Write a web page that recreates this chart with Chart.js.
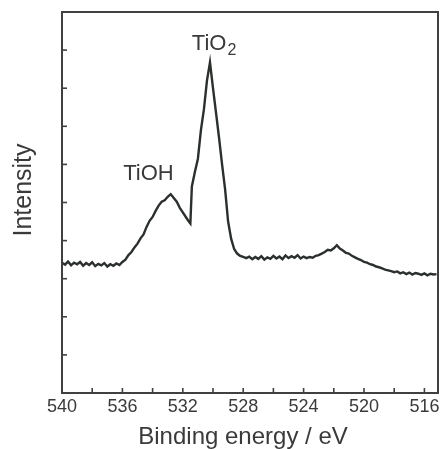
<!DOCTYPE html>
<html>
<head>
<meta charset="utf-8">
<script src="https://cdn.jsdelivr.net/npm/chart.js@4.4.1/dist/chart.umd.min.js"></script>
<style>
  html, body { margin: 0; padding: 0; background: #ffffff; }
  #wrap { width: 446px; height: 449px; }
</style>
</head>
<body>
<div id="wrap"><canvas id="c" width="446" height="449"></canvas></div>
<script>
// Binding energy (eV) and intensity (arbitrary units)
const energies = [
  540.0, 539.8, 539.6, 539.4, 539.2, 539.0, 538.8, 538.6, 538.4, 538.2,
  538.0, 537.8, 537.6, 537.4, 537.2, 537.0, 536.8, 536.6, 536.4, 536.2,
  536.0, 535.8, 535.6, 535.4, 535.2, 535.0, 534.8, 534.6, 534.4, 534.2,
  534.0, 533.8, 533.6, 533.4, 533.2, 533.0, 532.8, 532.6, 532.4, 532.2,
  532.0, 531.8, 531.6, 531.5, 531.4, 531.2, 531.0, 530.8, 530.6, 530.4,
  530.2, 530.0, 529.8, 529.6, 529.4, 529.2, 529.0, 528.8, 528.6, 528.4,
  528.2, 528.0, 527.8, 527.6, 527.4, 527.2, 527.0, 526.8, 526.6, 526.4,
  526.2, 526.0, 525.8, 525.6, 525.4, 525.2, 525.0, 524.8, 524.6, 524.4,
  524.2, 524.0, 523.8, 523.6, 523.4, 523.2, 523.0, 522.8, 522.6, 522.4,
  522.2, 522.0, 521.8, 521.6, 521.4, 521.2, 521.0, 520.8, 520.6, 520.4,
  520.2, 520.0, 519.8, 519.6, 519.4, 519.2, 519.0, 518.8, 518.6, 518.4,
  518.2, 518.0, 517.8, 517.6, 517.4, 517.2, 517.0, 516.8, 516.6, 516.4,
  516.2, 516.0, 515.8, 515.6, 515.4, 515.2
];
const intensity = [
  3.42, 3.37, 3.45, 3.35, 3.42, 3.38, 3.44, 3.34, 3.41, 3.36,
  3.43, 3.33, 3.39, 3.35, 3.41, 3.32, 3.38, 3.34, 3.40, 3.36,
  3.44, 3.50, 3.62, 3.70, 3.82, 3.92, 4.06, 4.16, 4.36, 4.52,
  4.62, 4.78, 4.92, 5.02, 5.06, 5.15, 5.22, 5.12, 5.02, 4.86,
  4.74, 4.62, 4.50, 4.45, 5.42, 5.80, 6.15, 6.90, 7.45, 8.20,
  8.68, 8.00, 7.35, 6.70, 6.00, 5.35, 4.50, 4.05, 3.78, 3.66,
  3.60, 3.57, 3.54, 3.58, 3.51, 3.57, 3.52, 3.59, 3.50, 3.56,
  3.52, 3.60, 3.53, 3.58, 3.51, 3.61, 3.54, 3.59, 3.55, 3.62,
  3.53, 3.58, 3.54, 3.57, 3.55, 3.60, 3.62, 3.66, 3.70, 3.76,
  3.74, 3.80, 3.88, 3.79, 3.74, 3.68, 3.66, 3.60, 3.56, 3.52,
  3.49, 3.44, 3.42, 3.38, 3.36, 3.32, 3.30, 3.27, 3.24, 3.22,
  3.20, 3.17, 3.19, 3.14, 3.17, 3.12, 3.16, 3.11, 3.15, 3.13,
  3.10, 3.14, 3.09, 3.13, 3.11, 3.12
];
const xTickValues = [540, 538, 536, 534, 532, 530, 528, 526, 524, 522, 520, 518, 516];
const xLabelValues = [540, 536, 532, 528, 524, 520, 516];
const xTitle = 'Binding energy / eV';
const yTitle = 'Intensity';
// peak labels anchored in data coordinates: [main, subscript, energy, intensity]
const peakLabels = [
  ['TiOH', '', 535.95, 5.6],
  ['TiO', '2', 531.4, 9.0]
];

const INK = '#3a3a3a';
const FONT = "'Liberation Sans', Arial, Helvetica, sans-serif";

const points = energies.map((e, i) => ({ x: e, y: intensity[i] }));

const framePlugin = {
  id: 'frameTicks',
  afterDraw(chart) {
    const { ctx, chartArea: a, scales } = chart;
    ctx.save();
    ctx.strokeStyle = '#404040';
    ctx.lineWidth = 1.6;
    // inward ticks on bottom axis
    scales.x.ticks.forEach(t => {
      const px = scales.x.getPixelForValue(t.value);
      ctx.beginPath();
      ctx.moveTo(px, a.bottom);
      ctx.lineTo(px, a.bottom - 5);
      ctx.stroke();
    });
    // inward ticks on left axis
    scales.y.ticks.forEach(t => {
      const py = scales.y.getPixelForValue(t.value);
      ctx.beginPath();
      ctx.moveTo(a.left, py);
      ctx.lineTo(a.left + 5, py);
      ctx.stroke();
    });
    ctx.lineWidth = 2;
    ctx.strokeRect(a.left, a.top, a.right - a.left, a.bottom - a.top);

    ctx.fillStyle = INK;
    // axis titles
    ctx.textAlign = 'center';
    ctx.textBaseline = 'middle';
    ctx.font = '24px ' + FONT;
    ctx.fillText(xTitle, a.left + 181, chart.height - 12);
    ctx.save();
    ctx.translate(24, a.top + 178);
    ctx.rotate(-Math.PI / 2);
    ctx.font = '25px ' + FONT;
    ctx.fillText(yTitle, 0, 0);
    ctx.restore();

    // peak labels
    ctx.textBaseline = 'alphabetic';
    ctx.textAlign = 'left';
    peakLabels.forEach(([main, sub, e, v]) => {
      const px = scales.x.getPixelForValue(e);
      const py = scales.y.getPixelForValue(v);
      ctx.font = '22px ' + FONT;
      ctx.fillText(main, px, py);
      if (sub) {
        const w = ctx.measureText(main).width;
        ctx.font = '16px ' + FONT;
        ctx.fillText(sub, px + w + 1, py + 5);
      }
    });
    ctx.restore();
  }
};

new Chart(document.getElementById('c'), {
  type: 'line',
  data: {
    datasets: [{
      data: points,
      borderColor: '#2c302c',
      borderWidth: 2.4,
      pointRadius: 0,
      tension: 0,
      fill: false
    }]
  },
  options: {
    responsive: false,
    animation: false,
    events: [],
    layout: { padding: { top: 12, right: 8, left: 0, bottom: 0 } },
    plugins: { legend: { display: false }, tooltip: { enabled: false } },
    scales: {
      x: {
        type: 'linear',
        reverse: true,
        min: 515.1,
        max: 540,
        border: { display: false },
        grid: { display: false, drawTicks: false },
        afterBuildTicks: s => { s.ticks = xTickValues.map(v => ({ value: v })); },
        ticks: {
          autoSkip: false,
          maxRotation: 0,
          padding: 3,
          color: INK,
          font: { family: FONT, size: 18 },
          callback: v => xLabelValues.includes(v) ? String(v) : ''
        },
        title: { display: false },
        afterFit: s => { s.height = 56; s.paddingLeft = 0; s.paddingRight = 0; }
      },
      y: {
        type: 'linear',
        min: 0,
        max: 10,
        border: { display: false },
        grid: { display: false, drawTicks: false },
        ticks: { stepSize: 1, display: false },
        title: { display: false },
        afterFit: s => { s.width = 62; s.paddingTop = 0; s.paddingBottom = 0; }
      }
    }
  },
  plugins: [framePlugin]
});
</script>
</body>
</html>
